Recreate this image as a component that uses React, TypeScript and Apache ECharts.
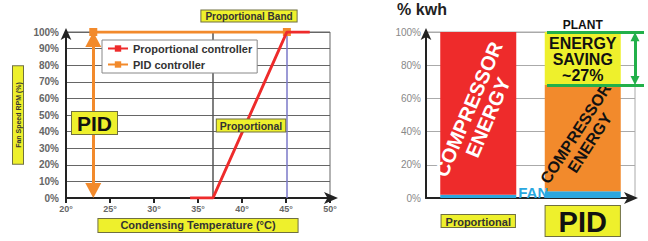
import React, { useEffect, useRef } from 'react';
import * as echarts from 'echarts';

const FONT = '"Liberation Sans", Arial, sans-serif';
const YELLOW = '#eef02c';
const BOX_BORDER = '#707040';
const RED = '#ee2b2b';
const ORANGE = '#f28a2c';
const FAN_BLUE = '#2aa7df';
const GREEN = '#22b04a';

// ---- Left chart: fan speed vs condensing temperature ----
const tempMin = 20;
const tempMax = 50;
const tempStep = 5;
const fanMin = 0;
const fanMax = 100;
const fanStep = 10;
const proportionalCurve: [number, number][] = [[34.1, 0], [36.7, 0], [45.1, 100], [47.7, 100]];
const pidCurve: [number, number][] = [[23.1, 100], [45.1, 100]];
const pidJump: [number, number][] = [[23.1, 0], [23.1, 100]];
const bandEdges = [36.7, 45.1];

// ---- Right chart: energy share ----
const schemes = ['Proportional', 'PID'];
const fanEnergy = [2, 4];
const compressorEnergy = [98, 64];
const savingEnergy = [0, 32];
const energyMin = 0;
const energyMax = 100;
const energyStep = 20;
const savingText = ['PLANT', 'ENERGY', 'SAVING', '~27%'];

const compressorLook = [
  { color: RED, text: '#ffffff', rotate: 67, size: 20 },
  { color: ORANGE, text: '#111111', rotate: 57, size: 16 },
];

function boxText(x: number, y: number, text: string, size: number, pad: number[], color = '#333') {
  return {
    type: 'text',
    x,
    y,
    z: 100,
    style: {
      text,
      fontFamily: FONT,
      fontSize: size,
      fontWeight: 'bold',
      fill: color,
      align: 'center',
      verticalAlign: 'middle',
      backgroundColor: YELLOW,
      borderColor: BOX_BORDER,
      borderWidth: 1,
      padding: pad,
    },
  };
}

export default function App() {
  const ref = useRef<HTMLDivElement>(null);

  useEffect(() => {
    document.body.style.margin = '0';
    if (!ref.current) return;
    const chart = echarts.init(ref.current, null, { renderer: 'svg' });

    const pidIdx = schemes.indexOf('PID');
    const savingBottom = fanEnergy[pidIdx] + compressorEnergy[pidIdx];
    const savingTop = savingBottom + savingEnergy[pidIdx];

    const option: any = {
      animation: false,
      backgroundColor: '#ffffff',
      textStyle: { fontFamily: FONT },
      grid: [
        { left: 66, right: 318, top: 32, bottom: 43, show: true, borderColor: '#666', borderWidth: 1, backgroundColor: '#fff' },
        { left: 426, right: 13, top: 32, bottom: 43, show: true, borderColor: '#aaa', borderWidth: 1, backgroundColor: '#fff' },
      ],
      legend: {
        data: ['Proportional controller', 'PID controller'],
        orient: 'vertical',
        left: 102,
        top: 40,
        padding: [3, 5],
        itemWidth: 20,
        itemHeight: 8,
        itemGap: 5,
        backgroundColor: '#fff',
        borderColor: '#888',
        borderWidth: 1,
        textStyle: { fontSize: 11, fontWeight: 'bold', color: '#333', fontFamily: FONT },
      },
      xAxis: [
        {
          type: 'value',
          gridIndex: 0,
          min: tempMin,
          max: tempMax,
          interval: tempStep,
          splitLine: { show: false },
          axisLine: {
            show: true,
            onZero: false,
            lineStyle: { color: '#222', width: 2 },
            symbol: ['none', 'arrow'],
            symbolSize: [9, 14],
            symbolOffset: [0, 8],
          },
          axisTick: { show: true, length: 5, lineStyle: { color: '#222', width: 2 } },
          axisLabel: { formatter: '{value}°', fontSize: 9, fontWeight: 'bold', color: '#666', margin: 6 },
          name: 'Condensing Temperature (°C)',
          nameLocation: 'middle',
          nameGap: 25,
          nameTextStyle: {
            fontSize: 11,
            fontWeight: 'bold',
            color: '#333',
            verticalAlign: 'middle',
            backgroundColor: YELLOW,
            borderColor: BOX_BORDER,
            borderWidth: 1,
            padding: [1, 22],
            lineHeight: 11,
          },
        },
        {
          type: 'category',
          gridIndex: 1,
          data: schemes,
          axisTick: { show: false },
          axisLine: {
            show: true,
            lineStyle: { color: '#222', width: 2 },
            symbol: ['none', 'arrow'],
            symbolSize: [9, 14],
            symbolOffset: [0, 3],
          },
          axisLabel: {
            interval: 0,
            margin: 23,
            verticalAlign: 'middle',
            formatter: (v: string) => (v === 'PID' ? `{big|${v}}` : `{small|${v}}`),
            rich: {
              big: {
                fontSize: 29,
                fontWeight: 'bold',
                color: '#111',
                backgroundColor: YELLOW,
                borderColor: BOX_BORDER,
                borderWidth: 1,
                padding: [1, 13, 0, 13],
                lineHeight: 25,
                fontFamily: FONT,
              },
              small: {
                fontSize: 11,
                fontWeight: 'bold',
                color: '#333',
                backgroundColor: YELLOW,
                borderColor: BOX_BORDER,
                borderWidth: 1,
                padding: [1, 4, 0, 4],
                lineHeight: 12,
                fontFamily: FONT,
              },
            },
          },
        },
      ],
      yAxis: [
        {
          type: 'value',
          gridIndex: 0,
          min: fanMin,
          max: fanMax,
          interval: fanStep,
          splitLine: { show: true, lineStyle: { color: '#666', width: 1 } },
          axisLine: {
            show: true,
            lineStyle: { color: '#222', width: 2 },
            symbol: ['none', 'arrow'],
            symbolSize: [8, 12],
            symbolOffset: [0, 4],
          },
          axisTick: { show: false },
          axisLabel: { formatter: '{value}%', fontSize: 10, fontWeight: 'bold', color: '#666', margin: 7 },
          name: 'Fan Speed RPM (%)',
          nameLocation: 'middle',
          nameRotate: 90,
          nameGap: 43,
          nameTextStyle: {
            fontSize: 7,
            fontWeight: 'bold',
            color: '#333',
            backgroundColor: YELLOW,
            borderColor: BOX_BORDER,
            borderWidth: 1,
            padding: [1, 16],
            lineHeight: 8,
          },
        },
        {
          type: 'value',
          gridIndex: 1,
          min: energyMin,
          max: energyMax,
          interval: energyStep,
          splitLine: { show: true, lineStyle: { color: '#aaa', width: 1 } },
          axisLine: {
            show: true,
            lineStyle: { color: '#222', width: 2 },
            symbol: ['none', 'arrow'],
            symbolSize: [8, 12],
            symbolOffset: [0, 4],
          },
          axisTick: { show: false },
          axisLabel: { formatter: '{value}%', fontSize: 10, color: '#888', margin: 5 },
          name: '% kwh',
          nameLocation: 'end',
          nameGap: 15,
          nameTextStyle: { fontSize: 16, fontWeight: 'bold', color: '#222', padding: [0, 8, 0, 0] },
        },
      ],
      series: [
        {
          name: 'Proportional controller',
          type: 'line',
          xAxisIndex: 0,
          yAxisIndex: 0,
          data: proportionalCurve,
          symbol: 'rect',
          symbolSize: 7,
          showSymbol: false,
          z: 4,
          lineStyle: { color: RED, width: 3 },
          itemStyle: { color: RED },
          markLine: {
            silent: true,
            symbol: ['none', 'none'],
            z: 1,
            label: { show: false },
            data: [
              { xAxis: bandEdges[0], lineStyle: { color: '#555', width: 1.5, type: 'solid' } },
              { xAxis: bandEdges[1], lineStyle: { color: '#7b78c8', width: 1.5, type: 'solid' } },
            ],
          },
        },
        {
          name: 'PID controller',
          type: 'line',
          xAxisIndex: 0,
          yAxisIndex: 0,
          data: pidCurve,
          symbol: 'rect',
          symbolSize: 8,
          showSymbol: true,
          z: 3,
          lineStyle: { color: ORANGE, width: 3 },
          itemStyle: { color: ORANGE },
          markLine: {
            silent: true,
            symbol: ['triangle', 'triangle'],
            symbolSize: [16, 15],
            label: { show: false },
            lineStyle: { color: ORANGE, width: 3, type: 'solid' },
            data: [
              [
                { coord: [pidJump[0][0], pidJump[0][1] + 4.5] },
                { coord: [pidJump[1][0], pidJump[1][1] - 4.5] },
              ],
            ],
          },
        },
        {
          name: 'Fan',
          type: 'bar',
          xAxisIndex: 1,
          yAxisIndex: 1,
          stack: 'energy',
          barWidth: 76,
          itemStyle: { color: FAN_BLUE },
          data: fanEnergy.map((v, i) => ({
            value: v,
            label:
              schemes[i] === 'Proportional'
                ? {
                    show: true,
                    position: 'right',
                    distance: 2,
                    offset: [0, -4],
                    formatter: 'FAN',
                    color: FAN_BLUE,
                    fontSize: 15,
                    fontWeight: 'bold',
                  }
                : { show: false },
          })),
        },
        {
          name: 'Compressor',
          type: 'bar',
          xAxisIndex: 1,
          yAxisIndex: 1,
          stack: 'energy',
          barWidth: 76,
          data: compressorEnergy.map((v, i) => ({
            value: v,
            itemStyle: { color: compressorLook[i].color },
            label: {
              show: true,
              position: 'inside',
              formatter: 'COMPRESSOR\nENERGY',
              rotate: compressorLook[i].rotate,
              color: compressorLook[i].text,
              fontSize: compressorLook[i].size,
              lineHeight: compressorLook[i].size + 1,
              fontWeight: 'bold',
              fontFamily: FONT,
            },
          })),
        },
        {
          name: 'Saving',
          type: 'bar',
          xAxisIndex: 1,
          yAxisIndex: 1,
          stack: 'energy',
          barWidth: 76,
          itemStyle: { color: YELLOW },
          data: savingEnergy.map((v, i) => ({
            value: v,
            label:
              schemes[i] === 'PID'
                ? {
                    show: true,
                    position: 'inside',
                    offset: [0, -10],
                    formatter: `{p|${savingText[0]}}\n{b|${savingText[1]}}\n{b|${savingText[2]}}\n{b|${savingText[3]}}`,
                    rich: {
                      p: { fontSize: 12, fontWeight: 'bold', color: '#111', lineHeight: 22, fontFamily: FONT },
                      b: { fontSize: 16, fontWeight: 'bold', color: '#111', lineHeight: 16, fontFamily: FONT },
                    },
                  }
                : { show: false },
          })),
        },
        {
          name: 'SavingMarks',
          type: 'line',
          xAxisIndex: 1,
          yAxisIndex: 1,
          data: [],
          markLine: {
            silent: true,
            symbol: ['none', 'none'],
            label: { show: false },
            lineStyle: { color: GREEN, width: 3, type: 'solid' },
            data: [
              [{ coord: ['PID', savingTop], x: 547 }, { coord: ['PID', savingTop], x: 644 }],
              [{ coord: ['PID', savingBottom], x: 547 }, { coord: ['PID', savingBottom], x: 644 }],
              [
                { coord: ['PID', savingTop - 2.8], x: 635, symbol: 'triangle', symbolSize: [9, 9] },
                { coord: ['PID', savingBottom + 2.8], x: 635, symbol: 'triangle', symbolSize: [9, 9] },
              ],
            ],
          },
        },
      ],
      graphic: [
        boxText(249, 16, 'Proportional Band', 10, [1, 4, 0, 4]),
        boxText(251, 125.5, 'Proportional', 10.5, [1, 3, 0, 3]),
        boxText(94.5, 123, 'PID', 21, [1, 5, 0, 5], '#111'),
      ],
    };

    chart.setOption(option);
    return () => chart.dispose();
  }, []);

  return <div ref={ref} style={{ width: 648, height: 241 }} />;
}
